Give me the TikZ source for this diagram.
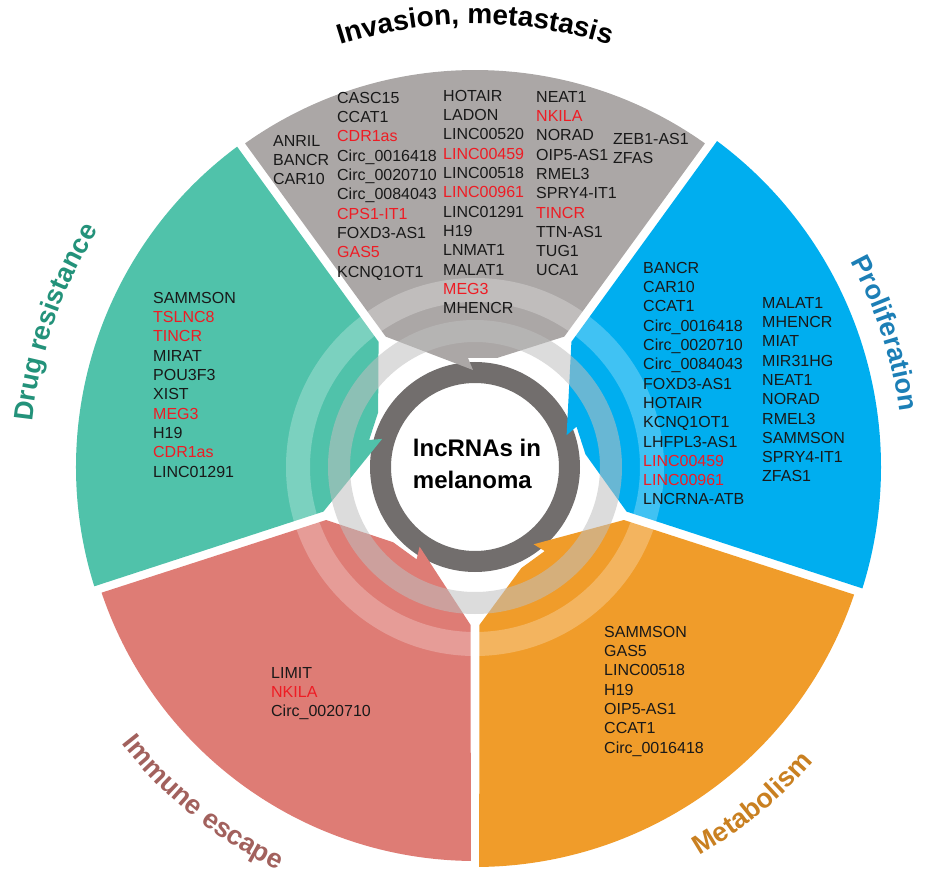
\documentclass[tikz,border=0pt]{standalone}
\usepackage{fontspec}
\setmainfont{Liberation Sans}
\usetikzlibrary{decorations.text}
\definecolor{secgray}{HTML}{ABA7A6}
\definecolor{secblue}{HTML}{00AEEF}
\definecolor{secorange}{HTML}{F09C2A}
\definecolor{secred}{HTML}{DE7C75}
\definecolor{secgreen}{HTML}{50C2AA}
\definecolor{ringdark}{HTML}{726E6D}
\definecolor{ringlight}{HTML}{BFBFBF}
\definecolor{hlred}{HTML}{EE1C24}
\definecolor{ttlblue}{HTML}{1C7FB6}
\definecolor{ttlorange}{HTML}{C98021}
\definecolor{ttlred}{HTML}{A2615D}
\definecolor{ttlgreen}{HTML}{23927A}
\newcommand{\redname}[1]{\textcolor{hlred}{#1}}
\tikzset{%
  genes/.style={%
    anchor=north west,
    align=left,
    inner sep=0pt,
    text=black!90,
    font=\fontsize{16}{19.3}\selectfont%
  },
  hub/.style={%
    align=left,
    inner sep=0pt,
    font=\bfseries\fontsize{24}{32}\selectfont%
  },
  arctitle/.style={%
    decorate,
    decoration={text along path, text align=center, text={#1}}%
  }
}

\begin{document}
\begin{tikzpicture}[x=1pt, y=1pt]
      \useasboundingbox (-475,-411) rectangle (451,467);

      % centre ring
      \fill[ringdark, even odd rule] (0,0) circle[radius=105] (0,0) circle[radius=84];

      % five arrow-shaped sectors
      \foreach \rot/\col/\rad in {0/secgray/397, -72/secblue/406, -144/secorange/400, -216/secred/394, -288/secgreen/399}
        \fill[\col, rotate=\rot] (-89.3,130.4) -- (125.4:\rad)
          arc[start angle=125.4, end angle=54.6, radius=\rad]
          -- (89.3,130.4) -- (22,109) -- (-7,109) -- (-2,97) -- cycle;

      % light rings on top
      \fill[ringlight, opacity=0.55, even odd rule] (0,0) circle[radius=147] (0,0) circle[radius=125];
      \fill[white, opacity=0.25, even odd rule] (0,0) circle[radius=189] (0,0) circle[radius=165];

      \node[hub] (core) at (2,3) {lncRNAs in\\melanoma};

      % gene lists
      \node[genes] (inv1) at (-202,332) {ANRIL\\BANCR\\CAR10};
      \node[genes] (inv2) at (-138,375) {CASC15\\CCAT1\\\redname{CDR1as}\\Circ\_0016418\\Circ\_0020710\\Circ\_0084043\\\redname{CPS1-IT1}\\FOXD3-AS1\\\redname{GAS5}\\KCNQ1OT1};
      \node[genes] (inv3) at (-32,377) {HOTAIR\\LADON\\LINC00520\\\redname{LINC00459}\\LINC00518\\\redname{LINC00961}\\LINC01291\\H19\\LNMAT1\\MALAT1\\\redname{MEG3}\\MHENCR};
      \node[genes] (inv4) at (61,376) {NEAT1\\\redname{NKILA}\\NORAD\\OIP5-AS1\\RMEL3\\SPRY4-IT1\\\redname{TINCR}\\TTN-AS1\\TUG1\\UCA1};
      \node[genes] (inv5) at (138,334) {ZEB1-AS1\\ZFAS};
      \node[genes] (pro1) at (168,205) {BANCR\\CAR10\\CCAT1\\Circ\_0016418\\Circ\_0020710\\Circ\_0084043\\FOXD3-AS1\\HOTAIR\\KCNQ1OT1\\LHFPL3-AS1\\\redname{LINC00459}\\\redname{LINC00961}\\LNCRNA-ATB};
      \node[genes] (pro2) at (287,170) {MALAT1\\MHENCR\\MIAT\\MIR31HG\\NEAT1\\NORAD\\RMEL3\\SAMMSON\\SPRY4-IT1\\ZFAS1};
      \node[genes] (meta) at (129,-159) {SAMMSON\\GAS5\\LINC00518\\H19\\OIP5-AS1\\CCAT1\\Circ\_0016418};
      \node[genes] (immu) at (-204,-200) {LIMIT\\\redname{NKILA}\\Circ\_0020710};
      \node[genes] (drug) at (-322,175) {SAMMSON\\\redname{TSLNC8}\\\redname{TINCR}\\MIRAT\\POU3F3\\XIST\\\redname{MEG3}\\H19\\\redname{CDR1as}\\LINC01291};

      % titles round the rim
      \path[arctitle={|\bfseries\fontsize{28}{28}\selectfont|Invasion, metastasis}]
        (125:443) arc[start angle=125, end angle=55, radius=443];
      \path[arctitle={|\bfseries\fontsize{27}{27}\selectfont\color{ttlblue}|Proliferation}]
        (48:428) arc[start angle=48, end angle=-12, radius=428];
      \path[arctitle={|\bfseries\fontsize{27}{27}\selectfont\color{ttlorange}|Metabolism}]
        (-80.5:449) arc[start angle=-80.5, end angle=-20.5, radius=449];
      \path[arctitle={|\bfseries\fontsize{27}{27}\selectfont\color{ttlred}|Immune escape}]
        (-159:449) arc[start angle=-159, end angle=-99, radius=449];
      \path[arctitle={|\bfseries\fontsize{27}{27}\selectfont\color{ttlgreen}|Drug resistance}]
        (191:445) arc[start angle=191, end angle=131, radius=445];
    \end{tikzpicture}
\end{document}
